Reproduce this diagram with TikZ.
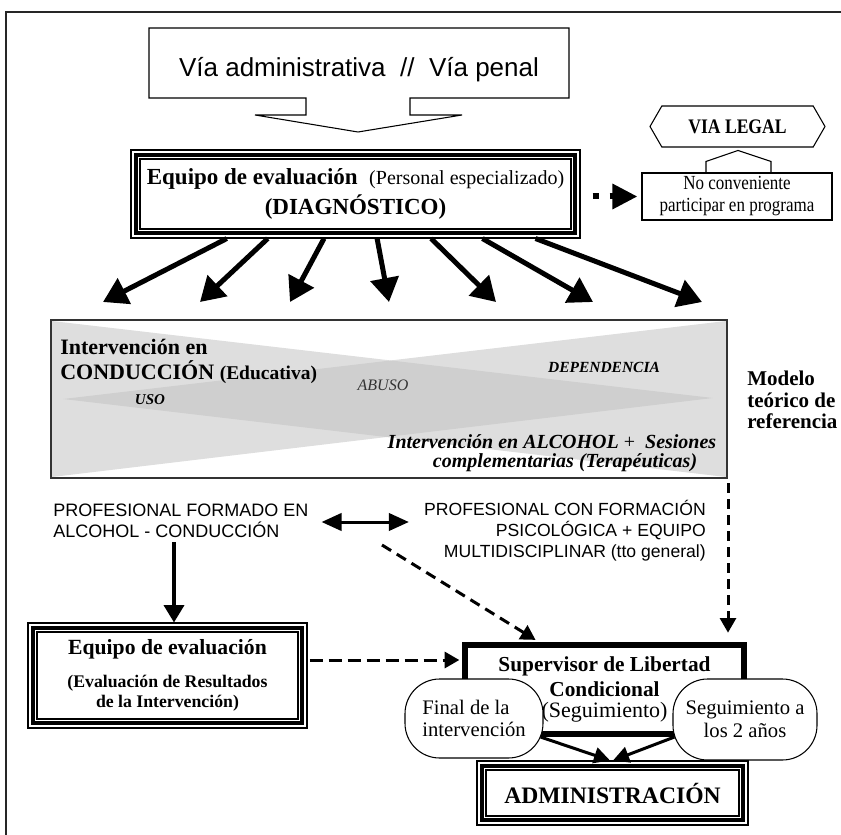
\documentclass[tikz,border=0pt]{standalone}
\usepackage{fontspec}
\setmainfont{Liberation Serif}
\newfontfamily\sansf{Liberation Sans}
\newfontfamily\condf{Liberation Serif}[FakeStretch=0.85]
\usetikzlibrary{arrows.meta,shapes.symbols,calc}
\newcommand\fsz[2]{\fontsize{#1}{#2}\selectfont}
\begin{document}
\begin{tikzpicture}[x=0.75pt,y=-0.75pt,
  triple/.style={draw, line width=0.8pt, fill=white, inner sep=0pt, align=center,
    path picture={
      \draw[line width=3pt] ([xshift=3.75pt,yshift=-3.75pt]path picture bounding box.north west) rectangle ([xshift=-3.75pt,yshift=3.75pt]path picture bounding box.south east);
      \draw[line width=0.9pt] ([xshift=6.75pt,yshift=-6.75pt]path picture bounding box.north west) rectangle ([xshift=-6.75pt,yshift=6.75pt]path picture bounding box.south east);}},
  txt/.style={inner sep=0pt, align=center},
  bigarr/.style={line width=3.75pt, -{Triangle[length=18pt,width=21pt]}},
  dsh/.style={line width=2.25pt, dash pattern=on 8pt off 5pt, -{Triangle[length=11pt,width=12pt]}},
  wedge/.style={fill=black!24, opacity=0.54},
  oval/.style={draw, line width=0.8pt, fill=white, rounded corners=26pt, inner sep=0pt, align=center, font=\fsz{15.5pt}{17pt}},
]
\useasboundingbox (0,0) rectangle (841,834);
% outer frame (cut at right and bottom)
\draw[line width=1.5pt, black!85] (6,860) -- (6,12) -- (860,12);

% top callout
\draw[line width=0.8pt] (149,28) -- (569,28) -- (569,98) -- (410,98) -- (410,115) -- (462,115)
  -- (358,132) -- (255,115) -- (306,115) -- (306,98) -- (149,98) -- cycle;
\node[txt, font=\sansf\fsz{19.5pt}{22pt}] (top) at (359,70) {Vía administrativa \ // \ Vía penal};

% main evaluation team
\node[triple, minimum width=336.75pt, minimum height=66pt, font=\fsz{17.25pt}{22.5pt}] (eq) at (355.5,194)
  {\textbf{Equipo de evaluación}\ \ {\fsz{15pt}{22.5pt}(Personal especializado)}\\
   \textbf{(DIAGNÓSTICO)}};

% via legal
\node[draw, line width=0.8pt, signal, signal to=west and east, signal pointer angle=120,
  minimum width=131.25pt, minimum height=30.75pt, inner sep=0pt,
  font=\condf\bfseries\fsz{15.5pt}{17pt}] (vl) at (737.5,126.5) {VIA LEGAL};
\node[draw, line width=0.8pt, minimum width=142.5pt, minimum height=35.25pt, inner sep=0pt,
  align=center, font=\condf\fsz{15pt}{16.5pt}] (nc) at (737,196.5) {No conveniente\\participar en programa};
\draw[line width=0.8pt] ($(nc.north)+(-31,0)$) -- ++(0,-11) -- ($(nc.north)+(1,-22)$)
  -- ($(nc.north)+(34,-11)$) -- ++(0,11);
\draw[line width=4.5pt, dash pattern=on 4.5pt off 8.25pt, -{Triangle[length=18.75pt,width=18pt]}, shorten >=3pt]
  ([xshift=9pt]eq.east |- nc.west) -- (nc.west);

% seven arrows
\foreach \i/\f/\tx in {1/0.214/103, 2/0.305/200, 3/0.430/290, 4/0.548/389, 5/0.668/496, 6/0.782/593, 7/0.900/702} {
  \coordinate (t\i) at (\tx,302);
  \draw[bigarr] ($(eq.south west)!\f!(eq.south east)$) -- (t\i);
}

% grey model box
\fill[wedge] (52,321) -- (52,477) -- (713,398) -- cycle;
\fill[wedge] (726,321) -- (726,477) -- (63,399) -- cycle;
\node[draw=black!80, line width=1.5pt, minimum width=507pt, minimum height=118.5pt, inner sep=0pt] (gb) at (389,399) {};
\node[txt, anchor=west, font=\bfseries\fsz{16.5pt}{18pt}] (ic1) at (60,347) {Intervención en};
\node[txt, anchor=west, font=\bfseries\fsz{16.5pt}{18pt}] (ic2) at (60,372) {CONDUCCIÓN {\fsz{14.6pt}{18pt}(Educativa)}};
\node[txt, font=\bfseries\itshape\fsz{11.25pt}{13pt}] (uso) at (150,400) {USO};
\node[txt, font=\itshape\fsz{12pt}{13pt}, text=black!80] (abuso) at (383,385) {ABUSO};
\node[txt, font=\bfseries\itshape\fsz{11.6pt}{13pt}] (dep) at (604,367) {DEPENDENCIA};
\node[txt, font=\bfseries\itshape\fsz{15pt}{16pt}] (alc1) at (552,442) {Intervención en ALCOHOL {\mdseries\upshape +}\ \ Sesiones};
\node[txt, font=\bfseries\itshape\fsz{15pt}{16pt}] (alc2) at (565,463) {complementarias (Terapéuticas)};
\node[txt, anchor=west, align=left, font=\bfseries\fsz{15.75pt}{16pt}] (mod) at (747,400) {Modelo\\teórico de\\referencia};

% professionals
\node[txt, anchor=west, align=left, font=\sansf\fsz{13.5pt}{15.75pt}] (prof1) at (53,520.5) {PROFESIONAL FORMADO EN\\ALCOHOL - CONDUCCIÓN};
\node[txt, anchor=east, align=right, font=\sansf\fsz{13.2pt}{15.75pt}] (prof2) at (706,531) {PROFESIONAL CON FORMACIÓN\\PSICOLÓGICA + EQUIPO\\MULTIDISCIPLINAR (tto general)};
\draw[line width=2.25pt, {Triangle[length=15pt,width=13pt]}-{Triangle[length=15pt,width=13pt]}]
  ($(prof1.east)+(13,1.5)$) -- ($(prof2.west)+(-15,-9)$);

% lower boxes
\node[triple, minimum width=209.25pt, minimum height=78.75pt, font=\bfseries\fsz{16.25pt}{18pt}] (leq) at (167.5,675.5)
  {Equipo de evaluación\\[7pt]
   {\fsz{13.3pt}{15pt}(Evaluación de Resultados}\\[-3pt] {\fsz{13.3pt}{15pt}de la Intervención)}};
\node[draw, line width=4.5pt, minimum width=209.25pt, minimum height=66.75pt, inner sep=0pt, align=center,
  font=\bfseries\fsz{16pt}{15.75pt}] (sup) at (604.5,689.5)
  {Supervisor de Libertad\\[3pt] Condicional\\ {\mdseries\fsz{16.5pt}{15.75pt}(Seguimiento)}};
\node[oval, minimum width=103.5pt, minimum height=59.25pt, align=left] (fin) at (474,718.5) {Final de la\\intervención};
\node[oval, minimum width=108pt, minimum height=60.75pt] (seg) at (745,719.5) {Seguimiento a\\los 2 años};
\node[triple, minimum width=203.25pt, minimum height=48pt, font=\bfseries\fsz{17.7pt}{20pt}] (adm) at (612.5,793) {ADMINISTRACIÓN};

\draw[line width=2.6pt, -{Triangle[length=13pt,width=15pt]}] ($(leq.north)+(6.5,-80)$) -- ($(leq.north)+(6.5,0)$);
\coordinate (c1) at (382,545);
\draw[dsh, shorten >=3pt] (c1) -- ($(sup.north west)!0.27!(sup.north east)$);
\draw[dsh, dash pattern=on 7.5pt off 4.5pt, shorten >=7pt] ($(gb.south east)+(0,4)$) -- (gb.south east |- sup.north);
\draw[dsh, dash pattern=on 9.75pt off 4.5pt, shorten >=2pt] ($(leq.east)+(2,-15.5)$) -- ($(sup.west |- leq.east)+(0,-15.5)$);
\draw[line width=2.25pt, -{Triangle[length=12pt,width=12pt]}] ($(fin.east)+(-3,18.5)$) -- ($(adm.north)+(-2.5,0)$);
\draw[line width=2.25pt, -{Triangle[length=12pt,width=12pt]}] ($(seg.west)+(2,17.5)$) -- ($(adm.north)+(0.5,0)$);
\end{tikzpicture}
\end{document}
